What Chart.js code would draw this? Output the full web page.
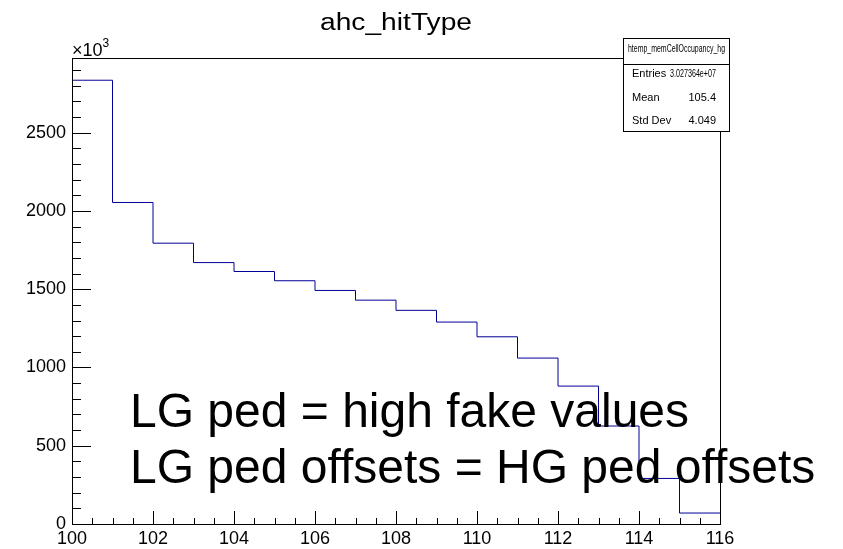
<!DOCTYPE html>
<html>
<head>
<meta charset="utf-8">
<title>ahc_hitType</title>
<script src="https://cdn.jsdelivr.net/npm/chart.js@4.4.1/dist/chart.umd.min.js"></script>
<style>
  body { margin: 0; background: #fff; }
  #hist { display: block; }
</style>
</head>
<body>
<canvas id="hist" width="843" height="549"></canvas>
<script>
// histogram bins (low edges) and bin contents, contents in units of 10^3
var binLow = [100, 101, 102, 103, 104, 105, 106, 107, 108, 109, 110, 111, 112, 113, 114, 115];
var binHighEdge = 116;
var counts = [2835, 2054, 1794, 1670, 1613, 1554, 1492, 1430, 1365, 1290, 1196, 1060, 881, 626, 291, 70];

var xTicks = [100, 102, 104, 106, 108, 110, 112, 114, 116];
var yTicks = [0, 500, 1000, 1500, 2000, 2500];
var yMax = 2977;

var histTitle = "ahc_hitType";
var statsName = "htemp_memCellOccupancy_hg";
var statLabels = ["Entries", "Mean", "Std Dev"];
var statValues = ["3.027364e+07", "105.4", "4.049"];
var noteLines = ["LG ped = high fake values", "LG ped offsets = HG ped offsets"];

var FONT = '"Liberation Sans", Arial, Helvetica, sans-serif';

// step points: one per bin low edge, plus the last upper edge
var points = [];
for (var i = 0; i < binLow.length; i++) {
	points.push({ x: binLow[i], y: counts[i] });
}
points.push({ x: binHighEdge, y: counts[counts.length - 1] });

// text squeezed/stretched to a given width, like ROOT does it
function fitText(ctx, text, x, y, width) {
	var w = ctx.measureText(text).width;
	ctx.save();
	ctx.translate(x, y);
	ctx.scale(width / w, 1);
	ctx.textAlign = "left";
	ctx.fillText(text, 0, 0);
	ctx.restore();
}

var rootFrame = {
	id: "rootFrame",
	afterDatasetsDraw: function(chart) {
		var ctx = chart.ctx;
		var area = chart.chartArea;
		var xs = chart.scales.x;
		var ys = chart.scales.y;
		var v, p, len;

		ctx.save();
		ctx.strokeStyle = "#000";
		ctx.lineWidth = 1;

		// frame
		ctx.strokeRect(Math.round(area.left) + 0.5, Math.round(area.top) + 0.5,
			Math.round(area.right - area.left), Math.round(area.bottom - area.top));

		// y ticks, inside the frame
		ctx.beginPath();
		for (v = 0; v <= yMax; v += 100) {
			p = Math.round(ys.getPixelForValue(v)) + 0.5;
			len = (v % 500 === 0) ? 19 : 9;
			ctx.moveTo(area.left, p);
			ctx.lineTo(area.left + len, p);
		}
		// x ticks
		for (v = xs.min; v <= xs.max; v += 0.5) {
			p = Math.round(xs.getPixelForValue(v)) + 0.5;
			len = (v % 2 === 0) ? 13 : 6;
			ctx.moveTo(p, area.bottom);
			ctx.lineTo(p, area.bottom - len);
		}
		ctx.stroke();

		ctx.fillStyle = "#000";
		ctx.textAlign = "left";
		ctx.textBaseline = "alphabetic";

		// title
		ctx.font = "23px " + FONT;
		fitText(ctx, histTitle, (area.left + area.right) / 2 - 76, 30, 152);

		// x10^3 exponent
		ctx.font = "18px " + FONT;
		ctx.fillText("\u00d710", area.left, 56);
		var ew = ctx.measureText("\u00d710").width;
		ctx.font = "12px " + FONT;
		ctx.fillText("3", area.left + ew, 47);

		// big note
		ctx.font = "48px " + FONT;
		ctx.fillText(noteLines[0], 130, 427);
		ctx.fillText(noteLines[1], 130, 483);

		// stats box
		var bx = 623.5, by = 38.5, bw = 106, bh = 93;
		ctx.fillStyle = "#fff";
		ctx.fillRect(bx, by, bw, bh);
		ctx.strokeRect(bx, by, bw, bh);
		ctx.beginPath();
		ctx.moveTo(bx, 64.5);
		ctx.lineTo(bx + bw, 64.5);
		ctx.stroke();

		ctx.fillStyle = "#000";
		ctx.font = "10px " + FONT;
		fitText(ctx, statsName, 628, 52, 97);

		ctx.font = "11px " + FONT;
		var rowY = [77, 101, 124];
		for (var r = 0; r < statLabels.length; r++) {
			ctx.textAlign = "left";
			ctx.fillText(statLabels[r], 632, rowY[r]);
			var vw = ctx.measureText(statValues[r]).width;
			if (vw > 46) {
				fitText(ctx, statValues[r], 716 - 46, rowY[r], 46);
			} else {
				ctx.textAlign = "right";
				ctx.fillText(statValues[r], 716, rowY[r]);
			}
		}
		ctx.restore();
	}
};

var ctx = document.getElementById("hist").getContext("2d");

var chart = new Chart(ctx, {
	type: "line",
	data: {
		datasets: [
			{
				label: histTitle,
				data: points,
				stepped: true,
				borderColor: "#000099",
				borderWidth: 1,
				pointRadius: 0,
				fill: false,
				tension: 0
			}
		]
	},
	options: {
		responsive: false,
		animation: false,
		layout: {
			padding: { top: 58, right: 123, left: 0, bottom: 0 }
		},
		plugins: {
			legend: { display: false },
			title: { display: false },
			tooltip: { enabled: false }
		},
		scales: {
			x: {
				type: "linear",
				min: 100,
				max: 116,
				afterBuildTicks: function(scale) {
					scale.ticks = xTicks.map(function(t) { return { value: t }; });
				},
				afterFit: function(scale) { scale.height = 25; },
				grid: { display: false, drawTicks: false },
				border: { display: false },
				ticks: {
					color: "#000",
					padding: 4,
					maxRotation: 0,
					autoSkip: false,
					font: { family: FONT, size: 18 },
					callback: function(value) { return String(value); }
				}
			},
			y: {
				type: "linear",
				min: 0,
				max: yMax,
				afterBuildTicks: function(scale) {
					scale.ticks = yTicks.map(function(t) { return { value: t }; });
				},
				afterFit: function(scale) { scale.width = 72; },
				grid: { display: false, drawTicks: false },
				border: { display: false },
				ticks: {
					color: "#000",
					padding: 6,
					font: { family: FONT, size: 18 },
					callback: function(value) { return String(value); }
				}
			}
		}
	},
	plugins: [rootFrame]
});
</script>
</body>
</html>
